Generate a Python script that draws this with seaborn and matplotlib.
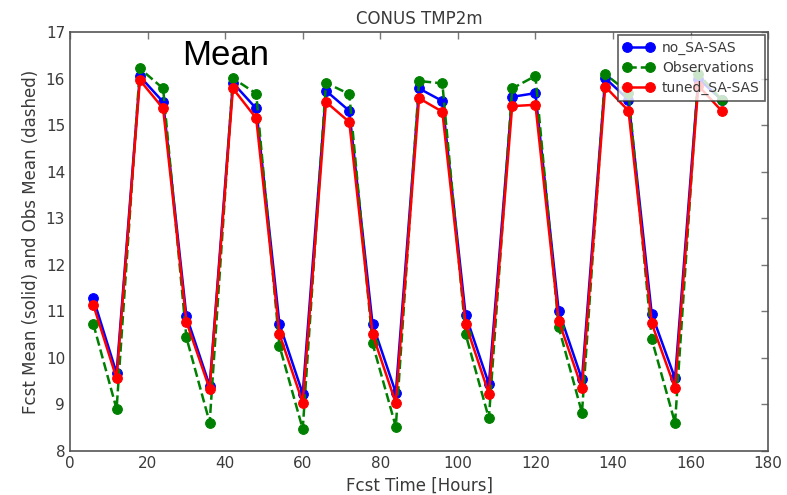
import numpy as np
import pandas as pd
import matplotlib
matplotlib.use("Agg")
import matplotlib.pyplot as plt
import seaborn as sns

# forecast hours
hours = [6, 12, 18, 24, 30, 36, 42, 48, 54, 60, 66, 72, 78, 84,
         90, 96, 102, 108, 114, 120, 126, 132, 138, 144, 150, 156, 162, 168]

no_sa_sas = [11.28, 9.67, 16.05, 15.50, 10.90, 9.40, 15.91, 15.36, 10.73, 9.23,
             15.74, 15.31, 10.73, 9.25, 15.79, 15.52, 10.92, 9.44, 15.61, 15.69,
             11.01, 9.54, 16.01, 15.55, 10.94, 9.56, 16.00, 15.55]
observations = [10.73, 8.90, 16.22, 15.79, 10.44, 8.61, 16.01, 15.68, 10.26, 8.47,
                15.91, 15.67, 10.31, 8.52, 15.95, 15.90, 10.51, 8.70, 15.79, 16.06,
                10.66, 8.82, 16.10, 15.70, 10.40, 8.60, 16.10, 15.55]
tuned_sa_sas = [11.14, 9.56, 15.97, 15.36, 10.78, 9.33, 15.79, 15.15, 10.51, 9.04,
                15.50, 15.07, 10.51, 9.03, 15.58, 15.29, 10.73, 9.23, 15.41, 15.44,
                10.80, 9.35, 15.83, 15.31, 10.74, 9.35, 15.85, 15.31]

series = ["no_SA-SAS", "Observations", "tuned_SA-SAS"]
colors = ["#0000ff", "#008000", "#ff0000"]
styles = ["-", "--", "-"]

df = pd.DataFrame({"hour": hours, series[0]: no_sa_sas,
                   series[1]: observations, series[2]: tuned_sa_sas})

sns.set_style("white")
plt.rcParams["font.family"] = ["DejaVu Sans"]
txt = "#3a3a3a"

fig = plt.figure(figsize=(7.87, 4.95), dpi=100)
ax = fig.add_axes([0.089, 0.089, 0.887, 0.846])

for name, c, ls in zip(series, colors, styles):
    sns.lineplot(data=df, x="hour", y=name, ax=ax, color=c, linestyle=ls,
                 marker="o", markersize=7, markeredgecolor=c, linewidth=1.8,
                 label=name)

ax.set_xlim(0, 180)
ax.set_ylim(8, 17)
ax.set_xticks(range(0, 181, 20))
ax.set_yticks(range(8, 18))
ax.tick_params(direction="in", top=True, right=True, length=5, width=1,
               colors="#777777", labelcolor=txt, labelsize=11)
for s in ax.spines.values():
    s.set_color("#555555")
    s.set_linewidth(1.2)

ax.set_xlabel("Fcst Time [Hours]", fontsize=12, color=txt)
ax.set_ylabel("Fcst Mean (solid) and Obs Mean (dashed)", fontsize=12, color=txt)
ax.set_title("CONUS TMP2m", fontsize=12, color=txt, pad=6)

leg = ax.legend(loc="upper right", fontsize=10, frameon=True, fancybox=False,
                borderaxespad=0.2, handlelength=2.2, labelspacing=0.45,
                borderpad=0.4, handletextpad=0.6, numpoints=2)
leg.get_frame().set_edgecolor("#333333")
leg.get_frame().set_linewidth(1.2)
for t in leg.get_texts():
    t.set_color(txt)

fig.text(0.231, 0.869, "Mean", fontsize=25, family="Liberation Sans",
         color="black", ha="left", va="baseline")

fig.savefig("out.png", dpi=100)
